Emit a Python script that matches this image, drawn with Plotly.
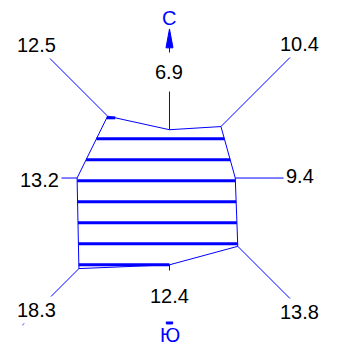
import numpy as np
import plotly.graph_objects as go

# Data
directions = ["С", "СВ", "В", "ЮВ", "Ю", "ЮЗ", "З", "СЗ"]
angles_deg = [90, 45, 0, -45, -90, -135, 180, 135]
values = [6.9, 10.4, 9.4, 13.8, 12.4, 18.3, 13.2, 12.5]
value_labels = ["6.9", "10.4", "9.4", "13.8", "12.4", "18.3", "13.2", "12.5"]

BLUE = "#0000ff"
FONT = "Liberation Sans"

ang = np.radians(angles_deg)
vx = np.array(values) * np.cos(ang)
vy = np.array(values) * np.sin(ang)

fig = go.Figure()

# axis lines from polygon vertices outward
R_END = 21.0
lx, ly = [], []
for i, name in enumerate(directions):
    a = ang[i]
    c, s = np.cos(a), np.sin(a)
    if name == "С":
        ex, ey = 0, 18.7
    elif name == "Ю":
        ex, ey = 0, -20.3
    elif name in ("З", "СЗ"):
        k = 18.6 / max(abs(c), abs(s))
        ex, ey = k * c, k * s
    else:
        k = R_END / max(abs(c), abs(s))
        ex, ey = k * c, k * s
    lx += [vx[i], ex, None]
    ly += [vy[i], ey, None]
fig.add_trace(go.Scatter(x=lx, y=ly, mode="lines",
                         line=dict(color=BLUE, width=1), hoverinfo="skip"))

# hatching
px = list(vx) + [vx[0]]
py = list(vy) + [vy[0]]
hx, hy = [], []
for k in range(8):
    yy = -12.4 + 3.0 * k
    xs = []
    for j in range(8):
        y1, y2 = py[j], py[j + 1]
        x1, x2 = px[j], px[j + 1]
        if (y1 - yy) * (y2 - yy) <= 0 and y1 != y2:
            t = (yy - y1) / (y2 - y1)
            xs.append(x1 + t * (x2 - x1))
    if len(xs) >= 2:
        hx += [min(xs), max(xs), None]
        hy += [yy, yy, None]
fig.add_trace(go.Scatter(x=hx, y=hy, mode="lines",
                         line=dict(color=BLUE, width=3), hoverinfo="skip"))

# polygon outline
fig.add_trace(go.Scatter(x=px, y=py, mode="lines",
                         line=dict(color=BLUE, width=1), hoverinfo="skip"))

# north arrow head
fig.add_trace(go.Scatter(x=[-0.5, 0.5, 0, -0.5], y=[18.6, 18.6, 21.3, 18.6],
                         mode="lines", fill="toself", fillcolor=BLUE,
                         line=dict(color=BLUE, width=1), hoverinfo="skip"))
# south end mark
fig.add_trace(go.Scatter(x=[-0.45, 0.45, 0.45, -0.45, -0.45],
                         y=[-20.3, -20.3, -20.85, -20.85, -20.3],
                         mode="lines", fill="toself", fillcolor=BLUE,
                         line=dict(color=BLUE, width=1), hoverinfo="skip"))

# value labels
label_pos = {
    "С": (0, 15.14, 8),
    "СВ": (18.64, 19.1, 2),
    "В": (18.64, 0.29, 2),
    "ЮВ": (18.64, -19.1, 2),
    "Ю": (0, -16.86, 14),
    "ЮЗ": (-19.07, -18.86, 2),
    "З": (-18.5, -0.29, 2),
    "СЗ": (-19.07, 19.0, 2),
}
for i, name in enumerate(directions):
    x, y, pad = label_pos[name]
    fig.add_annotation(x=x, y=y, text=value_labels[i], showarrow=False,
                       font=dict(family=FONT, size=20, color="black"),
                       bgcolor="white", borderpad=pad,
                       xanchor="center", yanchor="middle")

fig.add_annotation(x=0, y=22.9, text="С", showarrow=False,
                   font=dict(family=FONT, size=20, color=BLUE),
                   xanchor="center", yanchor="middle")
fig.add_annotation(x=0.07, y=-22.4, text="Ю", showarrow=False,
                   font=dict(family=FONT, size=20, color=BLUE),
                   xanchor="center", yanchor="middle")

# page body has an 8px margin, so the figure is sized to fit the window
fig.update_layout(
    width=332, height=342,
    margin=dict(l=0, r=0, t=0, b=0),
    paper_bgcolor="white", plot_bgcolor="white",
    showlegend=False,
    xaxis=dict(range=[-23.07, 24.36], visible=False, fixedrange=True),
    yaxis=dict(range=[-24.57, 24.29], visible=False, fixedrange=True),
)

fig.write_html("out.html")
